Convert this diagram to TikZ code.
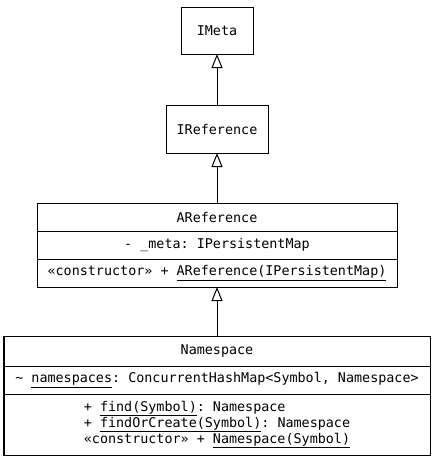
\documentclass[tikz,border=0pt]{standalone}
\usepackage{fontspec}
\setmonofont{DejaVu Sans Mono}
\usetikzlibrary{positioning, arrows.meta}
\tikzstyle{iface} = [rectangle, draw=black, line width=1pt, inner sep=0pt, outer sep=0pt, text centered, font=\ttfamily\fontsize{13.4}{14.6}\selectfont]
\tikzstyle{part} = [rectangle, draw=black, line width=1pt, inner sep=0pt, outer sep=0pt, text centered, font=\ttfamily\fontsize{13.4}{14.6}\selectfont]
\tikzstyle{arrow} = [line width=1pt, -{Triangle[open, length=14pt, width=11pt]}]

\begin{document}
\begin{tikzpicture}[x=1pt, y=1pt]
      \useasboundingbox (0,0) rectangle (435,-459);
      \node (imeta) [iface, minimum width=72pt, minimum height=47pt] at (217,-30.5) {IMeta};
      \node (iref) [iface, minimum width=102pt, minimum height=48pt] at (217,-129) {IReference};

      % AReference class
      \node (arefname) [part, minimum width=360pt, minimum height=28pt] at (217,-217) {AReference};
      \node (arefattr) [part, minimum width=360pt, minimum height=28pt, below=0pt of arefname] {- \_meta: IPersistentMap};
      \node (arefops) [part, minimum width=360pt, minimum height=28pt, below=0pt of arefattr] {«constructor» + \underline{AReference(IPersistentMap)}};

      % Namespace class
      \node (nsname) [part, minimum width=426pt, minimum height=30pt] at (217,-351) {Namespace};
      \node (nsattr) [part, minimum width=426pt, minimum height=28pt, below=0pt of nsname] {\textasciitilde{} \underline{namespaces}: ConcurrentHashMap<Symbol, Namespace>};
      \node (nsops) [part, minimum width=426pt, minimum height=61pt, below=0pt of nsattr, align=left] {+ \underline{find(Symbol)}: Namespace\\+ \underline{findOrCreate(Symbol)}: Namespace\\«constructor» + \underline{Namespace(Symbol)}};

      \draw [arrow] (iref) -- (imeta);
      \draw [arrow] (arefname) -- (iref);
      \draw [arrow] (nsname) -- (arefops);
    \end{tikzpicture}
\end{document}
